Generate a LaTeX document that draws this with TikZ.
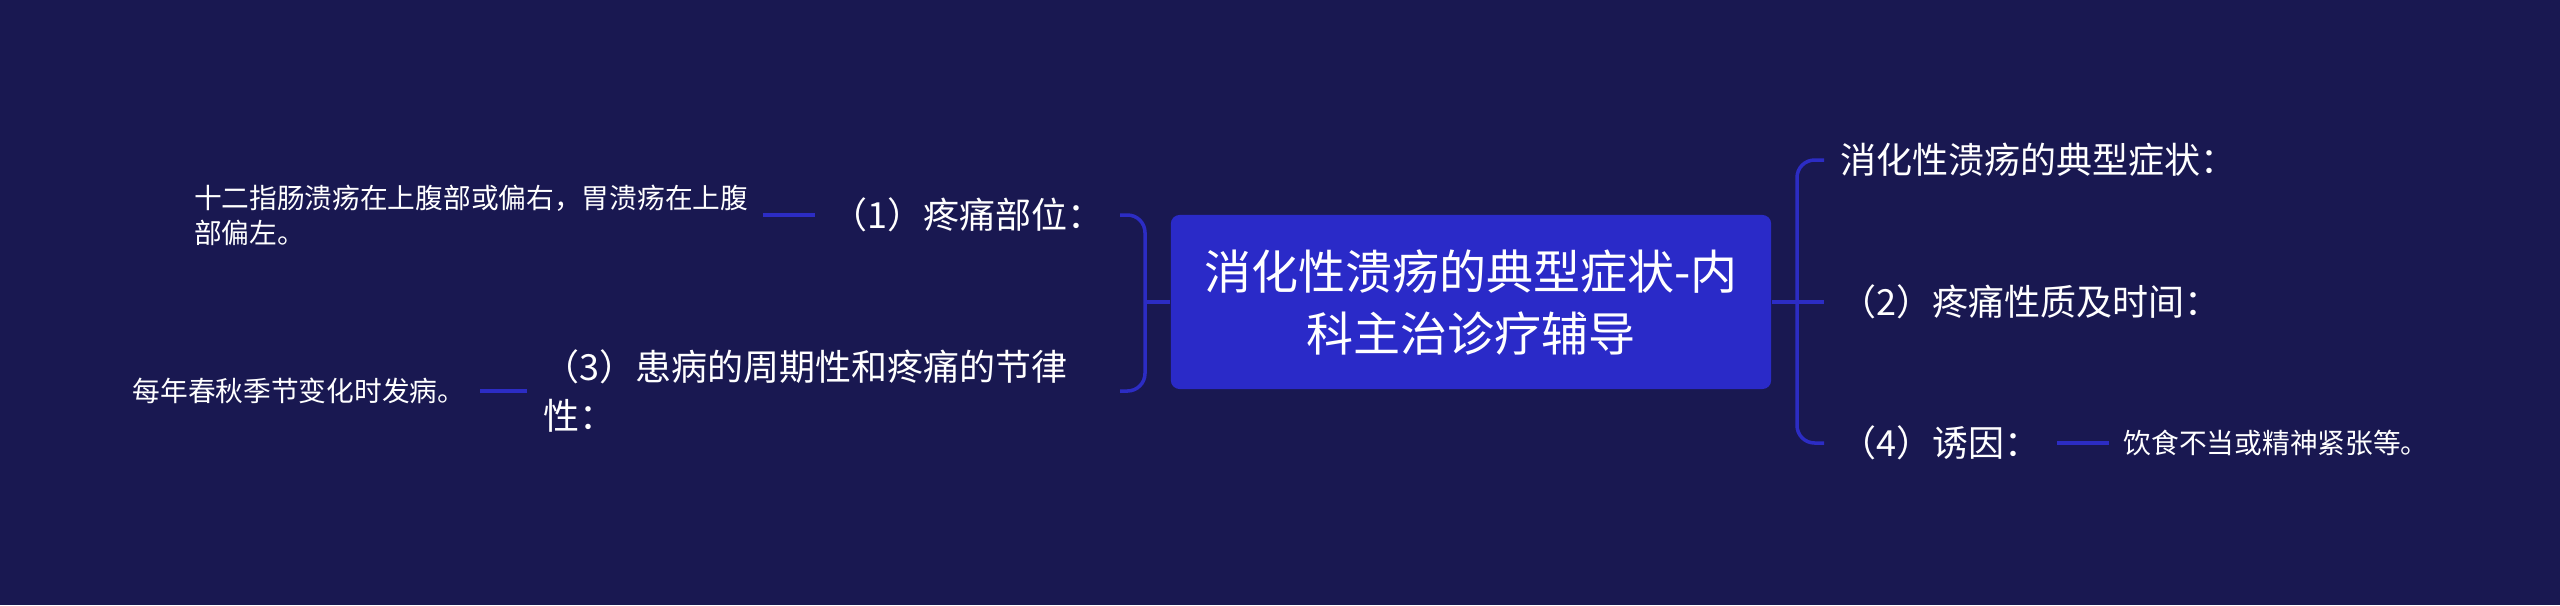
\documentclass[tikz,border=0pt]{standalone}
\usepackage{fontspec}
\newfontfamily\cjk{Noto Sans CJK SC}
\definecolor{bg}{RGB}{25,24,81}
\definecolor{boxblue}{RGB}{42,42,200}
\definecolor{linkblue}{RGB}{44,44,196}
\begin{document}
\begin{tikzpicture}[x=0.01cm,y=-0.01cm,
 conn/.style={draw=linkblue,line width=1pt},
 brk/.style={conn,rounded corners=5pt},
 root/.style={fill=boxblue,rounded corners=2.5pt,minimum width=6cm,minimum height=1.74cm,align=center,text=white,font=\cjk\fontsize{13.37pt}{17.64pt}\selectfont,inner sep=0pt},
 lvl/.style={text=white,font=\cjk\fontsize{10.24pt}{13.94pt}\selectfont,inner xsep=4.5pt,inner ysep=0pt},
 leaf/.style={text=white,font=\cjk\fontsize{7.88pt}{9.96pt}\selectfont,inner xsep=4pt,inner ysep=0pt,align=left},
]
\fill[bg] (0,0) rectangle (2560,605);
\useasboundingbox (0,0) rectangle (2560,605);

\node[root] (c) at (1471,302) {消化性溃疡的典型症状-内\\科主治诊疗辅导};

% left side
\node[lvl,anchor=east] (n1) at (1120,215) {（1）疼痛部位：};
\node[lvl,anchor=east,text width=159.3pt,align=left] (n3) at (1120,391) {（3）患病的周期性和疼痛的节律\\性：};
\coordinate (lb) at (1145,302);
\draw[conn] (c.west) -- (lb);
\draw[brk] (n1.east) -| (lb);
\draw[brk] (n3.east) -| (lb);

\node[leaf,anchor=east] (l1) at (763,215) {十二指肠溃疡在上腹部或偏右，胃溃疡在上腹\\部偏左。};
\draw[conn] (l1.east) -- (n1.west);
\node[leaf,anchor=east] (l3) at (480,391) {每年春秋季节变化时发病。};
\draw[conn] (l3.east) -- (n3.west);

% right side
\node[lvl,anchor=west] (r1) at (1824,160) {消化性溃疡的典型症状：};
\node[lvl,anchor=west] (r2) at (1824,302) {（2）疼痛性质及时间：};
\node[lvl,anchor=west] (r4) at (1824,443) {（4）诱因：};
\coordinate (rb) at (1797,302);
\draw[conn] (c.east) -- (r2.west);
\draw[brk] (r1.west) -| (rb);
\draw[brk] (r4.west) -| (rb);

\node[leaf,anchor=west] (l4) at (2109,443) {饮食不当或精神紧张等。};
\draw[conn] (r4.east) -- (l4.west);
\end{tikzpicture}
\end{document}
